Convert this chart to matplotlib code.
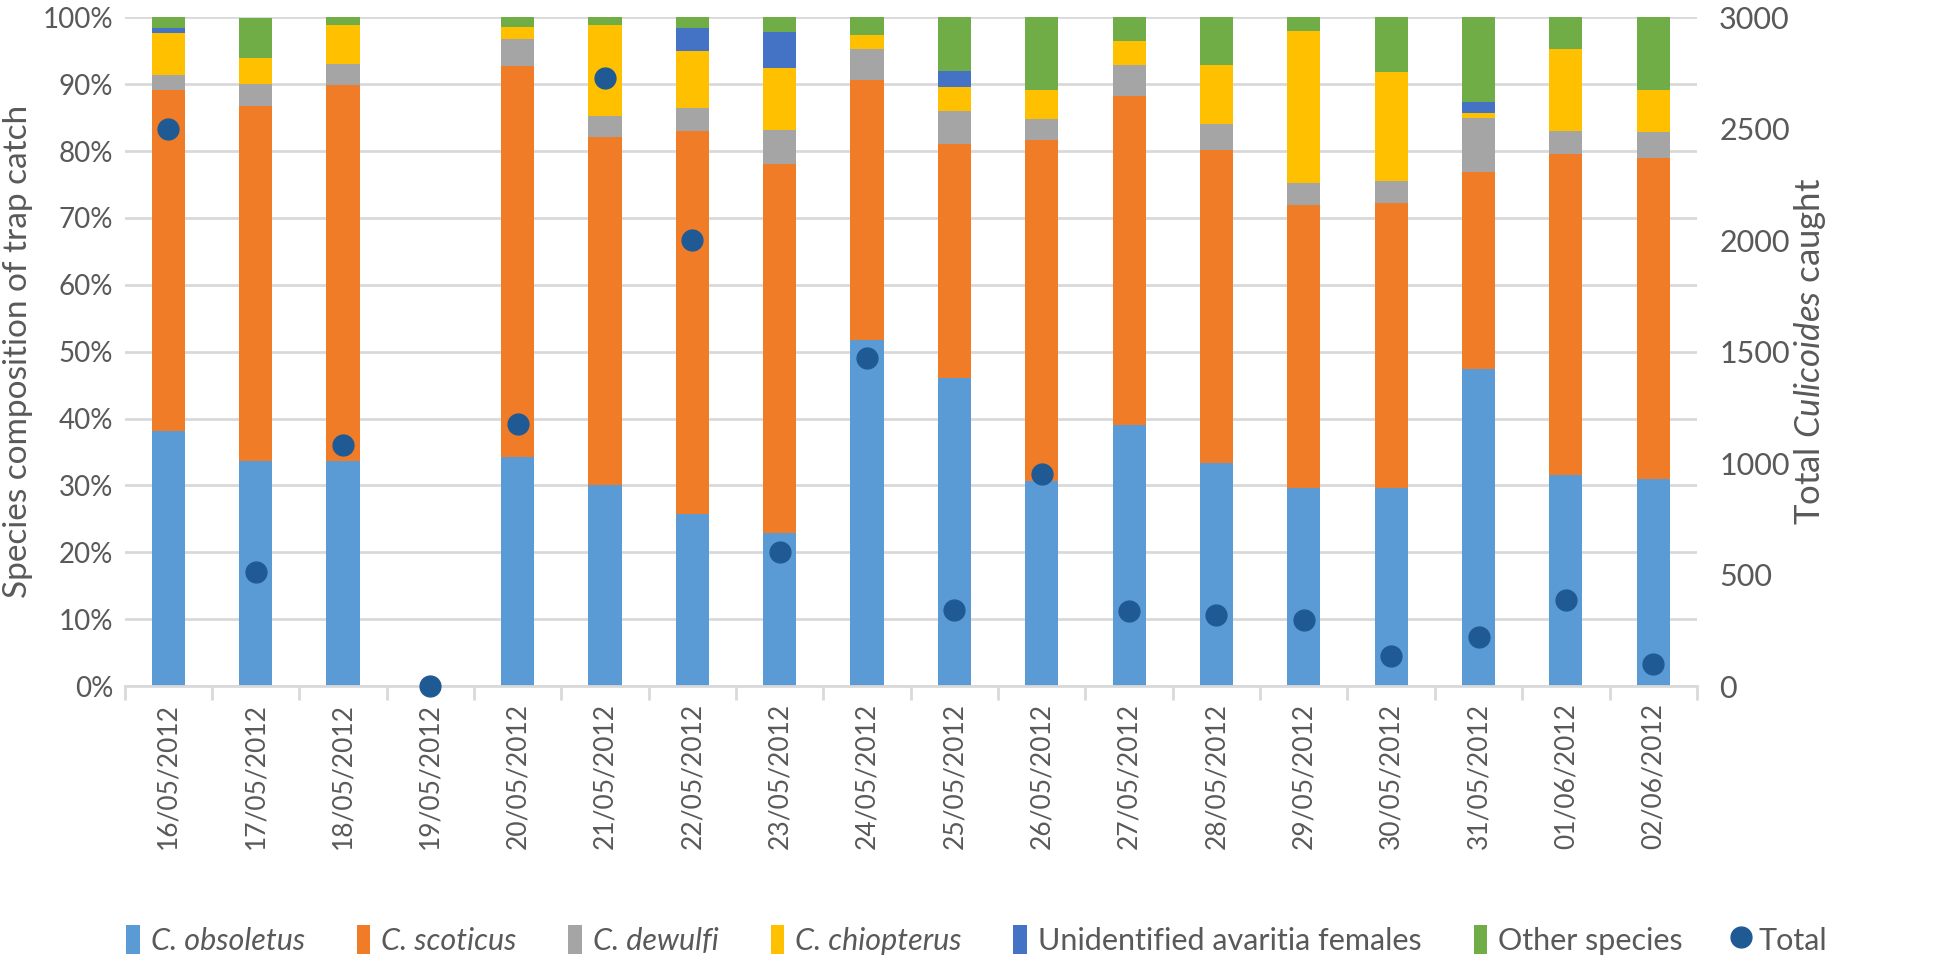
import numpy as np
import matplotlib
matplotlib.use("Agg")
import matplotlib.pyplot as plt
from matplotlib.lines import Line2D
from matplotlib.patches import Patch

plt.rcParams['font.family'] = ['Lato', 'DejaVu Sans']
plt.rcParams['mathtext.fontset'] = 'custom'
plt.rcParams['mathtext.rm'] = 'Lato'
plt.rcParams['mathtext.it'] = 'Lato:italic'

dates = ["16/05/2012", "17/05/2012", "18/05/2012", "19/05/2012", "20/05/2012",
         "21/05/2012", "22/05/2012", "23/05/2012", "24/05/2012", "25/05/2012",
         "26/05/2012", "27/05/2012", "28/05/2012", "29/05/2012", "30/05/2012",
         "31/05/2012", "01/06/2012", "02/06/2012"]

# percentages of trap catch
obsoletus = [38.1, 33.7, 33.6, 0, 34.2, 30.1, 25.8, 22.9, 51.8, 46.1,
             30.7, 39.1, 33.4, 29.6, 29.6, 47.4, 31.6, 31.0]
scoticus = [51.0, 53.1, 56.3, 0, 58.5, 52.0, 57.2, 55.2, 38.8, 35.0,
            50.9, 49.1, 46.8, 42.4, 42.7, 29.5, 48.0, 48.0]
dewulfi = [2.3, 3.3, 3.2, 0, 4.0, 3.2, 3.5, 5.0, 4.6, 4.9,
           3.2, 4.7, 3.9, 3.2, 3.2, 8.1, 3.4, 3.9]
chiopterus = [6.3, 3.8, 5.8, 0, 1.8, 13.5, 8.5, 9.4, 2.1, 3.6,
              4.3, 3.6, 8.8, 22.7, 16.4, 0.7, 12.3, 6.2]
avaritia = [0.7, 0, 0, 0, 0, 0, 3.4, 5.3, 0, 2.4,
            0, 0, 0, 0, 0, 1.6, 0, 0]
other = [1.6, 6.0, 1.1, 0, 1.5, 1.2, 1.6, 2.2, 2.7, 8.0,
         10.9, 3.5, 7.1, 2.1, 8.1, 12.7, 4.7, 10.9]
total = [2500, 510, 1080, 0, 1175, 2730, 2000, 600, 1470, 340,
         950, 335, 320, 295, 135, 220, 385, 100]

series = [
    ("C. obsoletus", obsoletus, "#5B9BD5", True),
    ("C. scoticus", scoticus, "#F07C28", True),
    ("C. dewulfi", dewulfi, "#A5A5A5", True),
    ("C. chiopterus", chiopterus, "#FFC000", True),
    ("Unidentified avaritia females", avaritia, "#4472C4", False),
    ("Other species", other, "#70AD47", False),
]
dot_color = "#1F5A94"
txt_color = "#595959"

fig = plt.figure(figsize=(19.46, 9.65), dpi=100)
ax = fig.add_axes([0.064, 0.289, 0.808, 0.693])
x = np.arange(len(dates))
bottom = np.zeros(len(dates))
for name, vals, col, ital in series:
    v = np.array(vals) / 100.0
    ax.bar(x, v, 0.38, bottom=bottom, color=col, zorder=2)
    bottom += v

ax.set_ylim(0, 1)
ax.set_xlim(-0.5, len(dates) - 0.5)
ax.set_yticks(np.arange(0, 1.01, 0.1))
ax.set_yticklabels([f"{int(round(t * 100))}%" for t in np.arange(0, 1.01, 0.1)])
ax.yaxis.grid(True, color="#D9D9D9", linewidth=2, zorder=0)
ax.set_axisbelow(True)
for s in ["top", "left", "right"]:
    ax.spines[s].set_visible(False)
ax.spines["bottom"].set_color("#D9D9D9")
ax.spines["bottom"].set_linewidth(2)
ax.set_xticks(x)
ax.set_xticklabels(dates, rotation=90)
ax.set_xticks(np.arange(-0.5, len(dates)), minor=True)
ax.tick_params(axis="x", which="major", length=0, pad=12, labelsize=19, labelcolor=txt_color)
ax.tick_params(axis="x", which="minor", length=10, width=2, color="#D9D9D9")
ax.tick_params(axis="y", length=0, labelsize=20, labelcolor=txt_color, pad=8)
ax.set_ylabel("Species composition of trap catch", fontsize=24, color=txt_color, va="center")
ax.yaxis.set_label_coords(-0.068, 0.5)

ax2 = ax.twinx()
ax2.plot(x, total, "o", color=dot_color, markersize=15, zorder=5, clip_on=False)
ax2.set_ylim(0, 3000)
ax2.set_yticks(range(0, 3001, 500))
for s in ["top", "left", "right", "bottom"]:
    ax2.spines[s].set_visible(False)
ax2.tick_params(axis="y", length=0, labelsize=22, labelcolor=txt_color, pad=16)
ax2.set_ylabel(r"Total $\it{Culicoides}$ caught", fontsize=25, color=txt_color,
               va="center", rotation=90)
ax2.yaxis.set_label_coords(1.072, 0.5)

handles = [Patch(facecolor=c, edgecolor="none") for _, _, c, _ in series]
handles.append(Line2D([], [], marker="o", linestyle="none", color=dot_color, markersize=15))
labels = [n for n, _, _, _ in series] + ["Total"]
leg = fig.legend(handles, labels, loc="lower center", bbox_to_anchor=(0.502, -0.018), ncol=7,
                 frameon=False, fontsize=22, handlelength=0.45, handleheight=1.1,
                 handletextpad=0.35, columnspacing=1.7)
for t, (n, _, _, ital) in zip(leg.get_texts(), series + [("Total", None, None, False)]):
    t.set_color(txt_color)
    if ital:
        t.set_style("italic")

fig.savefig("out.png", dpi=100)
